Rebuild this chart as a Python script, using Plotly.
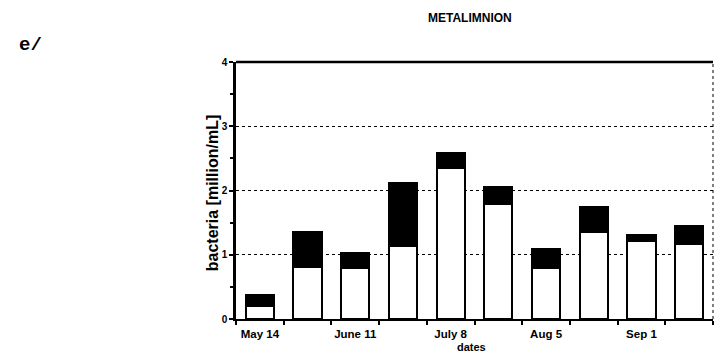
import plotly.graph_objects as go

# Sampling dates (only every other one is labelled on the axis)
dates = ["May 14", "May 28", "June 11", "June 25", "July 8",
         "July 22", "Aug 5", "Aug 19", "Sep 1", "Sep 15"]
tick_labels = ["May 14", "", "June 11", "", "July 8", "", "Aug 5", "", "Sep 1", ""]

# Bacterial abundance, million cells per mL
lower_part = [0.21, 0.81, 0.79, 1.13, 2.35, 1.79, 0.79, 1.35, 1.21, 1.17]
total = [0.37, 1.36, 1.03, 2.11, 2.59, 2.06, 1.09, 1.74, 1.30, 1.44]
upper_part = [t - l for t, l in zip(total, lower_part)]

font_main = "Liberation Sans"

fig = go.Figure()
fig.add_trace(go.Bar(
    x=dates, y=lower_part,
    marker=dict(color="white", line=dict(color="black", width=2)),
    width=0.59, showlegend=False,
))
fig.add_trace(go.Bar(
    x=dates, y=upper_part,
    marker=dict(color="black", line=dict(color="black", width=2)),
    width=0.59, showlegend=False,
))

fig.update_layout(
    barmode="stack",
    width=714, height=358,
    margin=dict(l=236, r=1, t=62, b=39),
    paper_bgcolor="white", plot_bgcolor="white",
    font=dict(family=font_main, color="black", size=10),
    xaxis=dict(
        type="category",
        tickmode="array", tickvals=dates,
        ticktext=[f"<b>{t}</b>" if t else "" for t in tick_labels],
        tickangle=0, ticklabelstandoff=3,
        tickson="boundaries", ticks="outside", ticklen=4, tickwidth=1.5, tickcolor="black",
        showline=True, linecolor="black", linewidth=2,
        showgrid=False, range=[-0.5, 9.5],
        tickfont=dict(size=11.5),
    ),
    yaxis=dict(
        range=[0, 4], tickvals=[0, 1, 2, 3, 4],
        ticktext=["<b>0</b>", "<b>1</b>", "<b>2</b>", "<b>3</b>", "<b>4</b>"],
        ticks="outside", ticklen=4, tickwidth=1.5, tickcolor="black",
        minor=dict(dtick=0.5, ticks="outside", ticklen=3, tickcolor="black", showgrid=False),
        showline=True, linecolor="black", linewidth=2.5,
        showgrid=True, gridcolor="black", gridwidth=1.2, griddash="dot",
        zeroline=False, tickfont=dict(size=10),
    ),
    shapes=[
        dict(type="line", xref="paper", yref="paper", x0=0, x1=1, y0=1, y1=1,
             line=dict(color="black", width=2.5)),
        dict(type="line", xref="paper", yref="paper", x0=1, x1=1, y0=0, y1=1,
             line=dict(color="black", width=1, dash="dot")),
    ],
    annotations=[
        dict(text="<b>METALIMNION</b>", xref="paper", yref="paper",
             x=0.49, y=1, yshift=53, showarrow=False,
             font=dict(family=font_main, size=12)),
        dict(text="<b>e/</b>", xref="paper", yref="paper",
             x=-0.46, xanchor="left", y=1, yshift=30, showarrow=False,
             font=dict(family="Liberation Mono", size=19)),
        dict(text="<b>bacteria [million/mL]</b>", xref="paper", yref="paper",
             x=-0.05, xanchor="center", y=0.49, yanchor="middle",
             textangle=-90, showarrow=False,
             font=dict(family=font_main, size=16)),
        dict(text="<b>dates</b>", xref="paper", yref="paper",
             x=0.493, y=0, yshift=-36, showarrow=False,
             font=dict(family=font_main, size=11)),
    ],
)

fig.write_html("out.html")
